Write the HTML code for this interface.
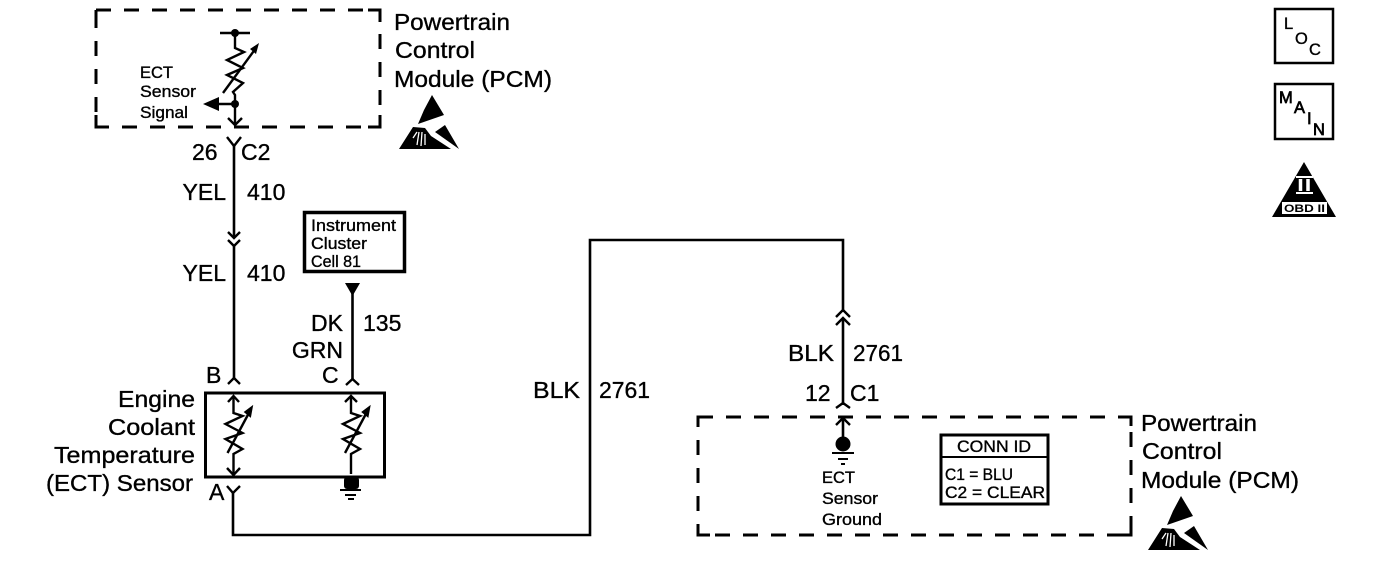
<!DOCTYPE html>
<html><head><meta charset="utf-8"><style>
html,body{margin:0;padding:0;background:#fff;width:1376px;height:568px;overflow:hidden}
svg{display:block}
text{font-family:"Liberation Sans",sans-serif;fill:#000;stroke:#000;stroke-width:.35}
.l{font-size:23px}
.s{font-size:16.5px}
.e{text-anchor:end}
.w{fill:none;stroke:#000;stroke-width:2.6}
.c{fill:none;stroke:#000;stroke-width:2.4}
.d{fill:none;stroke:#000;stroke-width:3;stroke-dasharray:15 13}
.r{fill:none;stroke:#000;stroke-width:3}
.b{stroke-width:.7}
</style></head><body>
<svg width="1376" height="568" viewBox="0 0 1376 568" xmlns="http://www.w3.org/2000/svg">
<defs>
<g id="esd">
<polygon points="33,-1 45,19 19,28 25,14"/>
<polygon points="46,29 60,53 36,36"/>
<polygon points="14,31 0,53 52,53 32,40 26,32"/>
<path d="M20 36 18 49M23 36 22 50M26 38 26 49M18 36 14 42" stroke="#fff" stroke-width="1.300" fill="none"/>
</g>
<g id="res">
<path class="c" d="M0 3V19L9 22-8 30 9 39-8 45 9 55 0 60V80"/>
<path class="c" d="M-6 59 17 16"/>
<polygon points="19,12 11,18 17,23" fill="#000" stroke="#000" stroke-width="1"/>
</g>
</defs>

<!-- top PCM -->
<rect class="d" x="96" y="10" width="284" height="117"/>
<path class="r" d="M96 10H108M96 10V22M368 10H380V22M96 127H108M96 127V115M368 127H380V115"/>
<text class="l" x="394" y="30" textLength="116" lengthAdjust="spacingAndGlyphs">Powertrain</text>
<text class="l" x="395" y="58" textLength="80" lengthAdjust="spacingAndGlyphs">Control</text>
<text class="l" x="394" y="87" textLength="158" lengthAdjust="spacingAndGlyphs">Module (PCM)</text>
<use href="#esd" x="399" y="96"/>
<text class="s" x="140" y="78">ECT</text>
<text class="s" x="140" y="97" textLength="56" lengthAdjust="spacingAndGlyphs">Sensor</text>
<text class="s" x="140" y="118" textLength="48" lengthAdjust="spacingAndGlyphs">Signal</text>
<path class="c" d="M220 33H250"/>
<circle cx="235" cy="33" r="4"/>
<path class="c" d="M235 33V48L244 52 227 60 243 68 227 75 243 83 233 92 235 95V124"/>
<path class="c" d="M223 93 256 48"/>
<polygon points="259,43 250,49 256,54"/>
<circle cx="235" cy="104" r="4"/>
<path class="c" d="M235 104H215"/>
<polygon points="203,104 219,97 219,111"/>
<path class="c" d="M228 118 235 125 242 118"/>

<!-- left wires -->
<path class="c" d="M227 137 234 146 241 137"/>
<path class="w" d="M234 146V238"/>
<path class="c" d="M228 232 234 238 240 232M228 240 234 246 240 240"/>
<path class="w" d="M234 246V379"/>
<path class="c" d="M228 384 234 378 240 384"/>
<text class="l" x="192" y="160">26</text>
<text class="l" x="241" y="160">C2</text>
<text class="l e" x="226" y="200">YEL</text>
<text class="l" x="247" y="200">410</text>
<text class="l e" x="226" y="281">YEL</text>
<text class="l" x="247" y="281">410</text>

<!-- instrument cluster -->
<rect x="304.500" y="212.500" width="100" height="59" fill="none" stroke="#000" stroke-width="3.500"/>
<text class="s" x="311" y="231" textLength="85" lengthAdjust="spacingAndGlyphs">Instrument</text>
<text class="s" x="311" y="249" textLength="56" lengthAdjust="spacingAndGlyphs">Cluster</text>
<text class="s" x="311" y="267" textLength="50" lengthAdjust="spacingAndGlyphs">Cell 81</text>
<polygon points="345,283 360,283 352.500,296"/>
<path class="w" d="M352.500 292V379"/>
<path class="c" d="M346 385 352.500 379 359 385"/>
<text class="l e" x="343" y="331">DK</text>
<text class="l e" x="343" y="358">GRN</text>
<text class="l" x="363" y="331">135</text>
<text class="l" x="322" y="383">C</text>
<text class="l" x="206" y="383">B</text>

<!-- sensor box -->
<rect x="205.500" y="393" width="179" height="84" fill="none" stroke="#000" stroke-width="3"/>
<text class="l" x="118" y="407" textLength="77" lengthAdjust="spacingAndGlyphs">Engine</text>
<text class="l" x="108" y="435" textLength="87" lengthAdjust="spacingAndGlyphs">Coolant</text>
<text class="l" x="54" y="463" textLength="141" lengthAdjust="spacingAndGlyphs">Temperature</text>
<text class="l" x="46" y="491" textLength="147" lengthAdjust="spacingAndGlyphs">(ECT) Sensor</text>
<use href="#res" x="233.500" y="394"/>
<path class="c" d="M228 402 233.500 396 239 402M227 468 233.500 475 240 468"/>
<use href="#res" x="351" y="394"/>
<path class="c" d="M345 402 351 396 357 402"/>
<rect x="344" y="477" width="15" height="12" rx="3"/>
<path class="r" style="stroke-width:2" d="M340 490H361M345 495H356"/>
<path class="c" style="stroke-width:2" d="M348 499H354"/>
<text class="l" x="209" y="500">A</text>
<path class="c" d="M227 486 233 493 240 486"/>

<!-- long wire -->
<path class="w" d="M233 492V535H590V240H843V312"/>
<path class="c" d="M836 317 843 310 850 317M836 325 843 318 850 325"/>
<path class="w" d="M843 318V405"/>
<path class="c" d="M836 408 843 403 850 408"/>
<text class="l" x="533" y="398" textLength="47" lengthAdjust="spacingAndGlyphs">BLK</text>
<text class="l" x="599" y="398" textLength="51" lengthAdjust="spacingAndGlyphs">2761</text>
<text class="l" x="788" y="361" textLength="46" lengthAdjust="spacingAndGlyphs">BLK</text>
<text class="l" x="853" y="361" textLength="50" lengthAdjust="spacingAndGlyphs">2761</text>
<text class="l" x="805" y="401">12</text>
<text class="l" x="850" y="401">C1</text>

<!-- bottom PCM -->
<rect class="d" x="698" y="417" width="433" height="118"/>
<path class="r" d="M698 535H710M698 535V525M1120 535H1131V525M1131 417V426"/>
<path class="c" d="M836 425 843 418 850 425"/>
<path class="w" d="M843 419V440"/>
<circle cx="843" cy="444" r="7.500"/>
<path class="c" style="stroke-width:2" d="M832 453H854M838 459H848M841 464H845"/>
<text class="s" x="822" y="483">ECT</text>
<text class="s" x="822" y="504" textLength="56" lengthAdjust="spacingAndGlyphs">Sensor</text>
<text class="s" x="822" y="525" textLength="60" lengthAdjust="spacingAndGlyphs">Ground</text>
<rect x="941" y="435" width="107" height="69" fill="none" stroke="#000" stroke-width="3"/>
<path class="c" style="stroke-width:2" d="M941 457H1048"/>
<text class="s" x="957" y="452" textLength="74" lengthAdjust="spacingAndGlyphs">CONN ID</text>
<text class="s" x="945" y="480" textLength="68" lengthAdjust="spacingAndGlyphs">C1 = BLU</text>
<text class="s" x="945" y="498" textLength="100" lengthAdjust="spacingAndGlyphs">C2 = CLEAR</text>
<text class="l" x="1141" y="431" textLength="116" lengthAdjust="spacingAndGlyphs">Powertrain</text>
<text class="l" x="1142" y="459" textLength="80" lengthAdjust="spacingAndGlyphs">Control</text>
<text class="l" x="1141" y="488" textLength="158" lengthAdjust="spacingAndGlyphs">Module (PCM)</text>
<use href="#esd" x="1148" y="497"/>

<!-- right icons -->
<rect x="1275" y="9" width="58" height="54" fill="none" stroke="#000" stroke-width="2.500"/>
<text class="s" x="1284" y="29">L</text>
<text class="s" x="1295" y="44">O</text>
<text class="s" x="1309" y="55">C</text>
<rect x="1275" y="84" width="58" height="55" fill="none" stroke="#000" stroke-width="2.500"/>
<text class="s b" x="1279" y="103">M</text>
<text class="s b" x="1294" y="113">A</text>
<text class="s b" x="1307" y="124">I</text>
<text class="s b" x="1313" y="135">N</text>
<polygon points="1304,162 1272,217 1336,217"/>
<rect x="1282" y="202" width="45" height="12" fill="#fff"/>
<path d="M1296 177H1313M1296 193H1313" stroke="#fff" stroke-width="2"/>
<path d="M1300.500 179V191M1308 179V191" stroke="#fff" stroke-width="3.500"/>
<text x="1284" y="212" style="font-size:11px;stroke:none;font-weight:bold" textLength="41" lengthAdjust="spacingAndGlyphs">OBD II</text>
</svg>
</body></html>
